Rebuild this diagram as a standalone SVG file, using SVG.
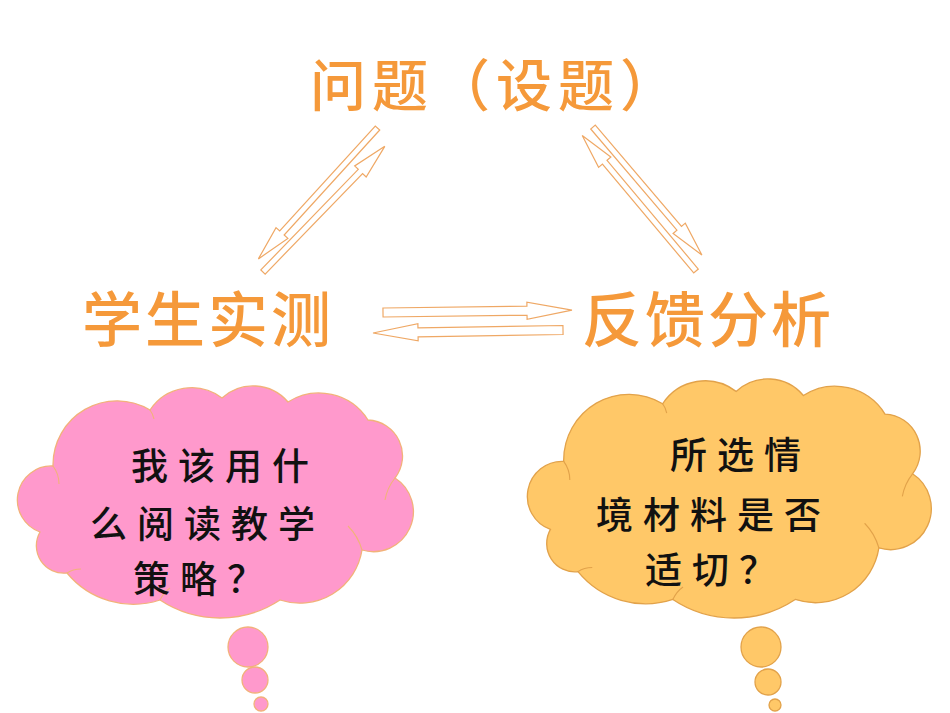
<svg xmlns="http://www.w3.org/2000/svg" width="950" height="713" viewBox="0 0 950 713">
<style>
.title{font-family:"Noto Sans CJK SC","Noto Sans",sans-serif;fill:#F5993A;font-weight:500}
.q{font-family:"Noto Sans CJK SC","Noto Sans",sans-serif;fill:#111;font-size:37px;font-weight:500;letter-spacing:10px}
.arr{fill:#fff;stroke:#EFA865;stroke-width:1.2;stroke-linejoin:miter}
.pink{fill:#FF99CC;stroke:#F2B27A;stroke-width:1.3}
.yel{fill:#FFC868;stroke:#E2A24A;stroke-width:1.3}
.inner{fill:none;stroke-width:1.1}
</style>
<defs>
<path id="cloud" d="M40,532 A34,34 0 0 1 53,466 A64,64 0 0 1 150,410 A50,50 0 0 1 222,398 A46,46 0 0 1 288,402 A58,58 0 0 1 368,420 A36,36 0 0 1 395,478 A40,40 0 0 1 362,550 A63,63 0 0 1 280,600 A109,109 0 0 1 160,600 A86,86 0 0 1 67,573 A27.5,27.5 0 0 1 40,532 Z"/>
<path id="cloudInner" d="M53,466 q6,8 6,18 M150,410 q3,4 4,9 M395,478 q-8,10 -10,22 M362,550 q-4,-14 -14,-24 M160,600 q4,-8 10,-12 M67,573 q6,-4 14,-4"/>
</defs>
<rect width="950" height="713" fill="#fff"/>
<g id="connectors">
<polygon class="arr" transform="translate(377.5,128) rotate(132.3)" points="0,-3 142,-3 142,-8 177,0 142,8 142,3 0,3"/>
<polygon class="arr" transform="translate(263,272) rotate(-45.9)" points="0,-3 140,-3 140,-8 175,0 140,8 140,3 0,3"/>
<polygon class="arr" transform="translate(593,127) rotate(49.6)" points="0,-3 133,-3 133,-8 168,0 133,8 133,3 0,3"/>
<polygon class="arr" transform="translate(696,271) rotate(-130)" points="0,-3 142,-3 142,-8 177,0 142,8 142,3 0,3"/>
<polygon class="arr" transform="translate(383,312.5) rotate(-0.7)" points="0,-4.5 144,-4.5 144,-8.5 189,0 144,8.5 144,4.5 0,4.5"/>
<polygon class="arr" transform="translate(563,330) rotate(179.1)" points="0,-4.5 145,-4.5 145,-8.5 190,0 145,8.5 145,4.5 0,4.5"/>
</g>
<g id="node-problem">
<text class="title" x="310" y="106" font-size="56" letter-spacing="6">问题（设题）</text>
</g>
<g id="node-student">
<text class="title" x="82" y="342" font-size="60" letter-spacing="3">学生实测</text>
</g>
<g id="node-feedback">
<text class="title" x="582" y="342" font-size="60" letter-spacing="3">反馈分析</text>
</g>
<g id="node-cloud-left">
<use href="#cloud" class="pink"/>
<use href="#cloudInner" class="inner" stroke="#F2B27A"/>
<circle class="pink" cx="248" cy="647" r="20"/>
<circle class="pink" cx="255" cy="680" r="13"/>
<circle class="pink" cx="261" cy="704" r="7"/>
<text class="q" x="131" y="480">我该用什</text>
<text class="q" x="90" y="538">么阅读教学</text>
<text class="q" x="133" y="593">策略？</text>
</g>
<g id="node-cloud-right">
<g transform="translate(528,378) scale(1.02,1.03) translate(-18,-385)">
<use href="#cloud" class="yel"/>
<use href="#cloudInner" class="inner" stroke="#E2A24A"/>
</g>
<circle class="yel" cx="761" cy="647" r="20"/>
<circle class="yel" cx="768" cy="682" r="13"/>
<circle class="yel" cx="775" cy="705" r="6"/>
<text class="q" x="670" y="469">所选情</text>
<text class="q" x="596" y="529">境材料是否</text>
<text class="q" x="645" y="584">适切？</text>
</g>
</svg>
